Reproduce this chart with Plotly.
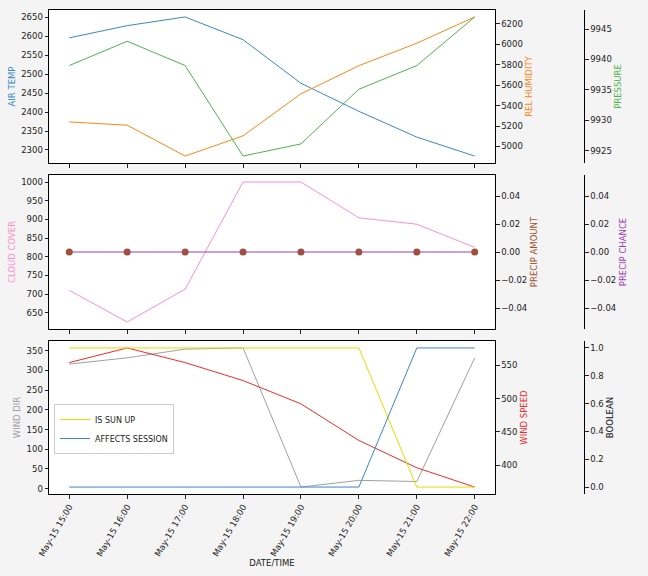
import plotly.graph_objects as go

times = ["2024-05-15 15:00", "2024-05-15 16:00", "2024-05-15 17:00", "2024-05-15 18:00",
         "2024-05-15 19:00", "2024-05-15 20:00", "2024-05-15 21:00", "2024-05-15 22:00"]
air_temp = [2596, 2628, 2651, 2591, 2476, 2402, 2334, 2284]
rel_humidity = [5240, 5208, 4906, 5104, 5515, 5791, 6011, 6268]
pressure = [9939.0, 9943.0, 9939.0, 9924.1, 9926.1, 9935.1, 9939.0, 9947.0]
cloud_cover = [710, 625, 713, 1000, 1000, 904, 887, 825]
precip_amount = [0, 0, 0, 0, 0, 0, 0, 0]
precip_chance = [0, 0, 0, 0, 0, 0, 0, 0]
wind_dir = [316, 332, 354, 357, 4, 21, 18, 332]
wind_speed = [554, 576, 554, 527, 492, 437, 396, 367]
is_sun_up = [1, 1, 1, 1, 1, 1, 0, 0]
affects_session = [0, 0, 0, 0, 0, 0, 1, 1]

C_BLUE = "#3a87c4"
C_ORANGE = "#ff8516"
C_GREEN = "#4fb24f"
C_PINK = "#ff8fcc"
C_BROWN = "#a0522d"
C_PURPLE = "#9b3fb0"
C_GRAY = "#a0a0a0"
C_RED = "#ee2a2a"
C_YELLOW = "#e6dc00"


def pad(vals):
    lo, hi = min(vals), max(vals)
    if hi == lo:
        return [lo - 0.055, hi + 0.055]
    d = (hi - lo) * 0.05
    return [lo - d, hi + d]


FONT = "DejaVu Sans"
FS = 8.5
XDOM = [49 / 648, 495 / 648]
P3 = 584 / 648
H = 576
DOMS = [[1 - 163 / H, 1 - 10 / H], [1 - 329 / H, 1 - 175 / H], [1 - 494 / H, 1 - 341 / H]]

fig = go.Figure()

# panel 1
fig.add_trace(go.Scatter(x=times, y=air_temp, mode="lines", line=dict(color=C_BLUE, width=1),
                         xaxis="x", yaxis="y", showlegend=False))
fig.add_trace(go.Scatter(x=times, y=rel_humidity, mode="lines", line=dict(color=C_ORANGE, width=1),
                         xaxis="x", yaxis="y2", showlegend=False))
fig.add_trace(go.Scatter(x=times, y=pressure, mode="lines", line=dict(color=C_GREEN, width=1),
                         xaxis="x", yaxis="y3", showlegend=False))
# panel 2
fig.add_trace(go.Scatter(x=times, y=cloud_cover, mode="lines", line=dict(color=C_PINK, width=1),
                         xaxis="x2", yaxis="y4", showlegend=False))
fig.add_trace(go.Scatter(x=times, y=precip_amount, mode="markers", marker=dict(color=C_BROWN, size=7),
                         xaxis="x2", yaxis="y5", showlegend=False))
fig.add_trace(go.Scatter(x=times, y=precip_chance, mode="lines", line=dict(color=C_PURPLE, width=1),
                         xaxis="x2", yaxis="y6", showlegend=False))
# panel 3
fig.add_trace(go.Scatter(x=times, y=wind_dir, mode="lines", line=dict(color=C_GRAY, width=1),
                         xaxis="x3", yaxis="y7", showlegend=False))
fig.add_trace(go.Scatter(x=times, y=wind_speed, mode="lines", line=dict(color=C_RED, width=1),
                         xaxis="x3", yaxis="y8", showlegend=False))
fig.add_trace(go.Scatter(x=times, y=is_sun_up, mode="lines", line=dict(color=C_YELLOW, width=1),
                         xaxis="x3", yaxis="y9", name="IS SUN UP"))
fig.add_trace(go.Scatter(x=times, y=affects_session, mode="lines", line=dict(color=C_BLUE, width=1),
                         xaxis="x3", yaxis="y9", name="AFFECTS SESSION"))

tickfont = dict(family=FONT, size=FS, color="#222")
common_ax = dict(showgrid=False, zeroline=False, ticks="outside", ticklen=3.5, tickwidth=0.8,
                 tickcolor="#222", tickfont=tickfont, automargin=False,
                 showline=True, linecolor="black", linewidth=1)

xrange = ["2024-05-15 14:39", "2024-05-15 22:21"]
for i, name in enumerate(["xaxis", "xaxis2", "xaxis3"]):
    a = dict(common_ax)
    a.update(domain=XDOM, range=xrange, type="date", mirror=True,
             anchor=["y", "y4", "y7"][i], tickvals=times,
             tickformat="%b-%d %H:%M", showticklabels=(i == 2))
    if i == 2:
        a.update(tickangle=-60,
                 title=dict(text="DATE/TIME", font=dict(family=FONT, size=FS, color="#222"), standoff=1))
    else:
        a.update(matches="x3")
    fig.update_layout({name: a})


def left_axis(name, dom, anchor, rng, dtick, title, color, fmt=None):
    a = dict(common_ax)
    a.update(domain=dom, anchor=anchor, range=rng, dtick=dtick, mirror=True,
             title=dict(text=title, font=dict(family=FONT, size=FS, color=color), standoff=4))
    if fmt:
        a["tickformat"] = fmt
    fig.update_layout({name: a})


def right_axis(name, dom, over, anchor, rng, dtick, title, color, fmt=None, free=False):
    a = dict(common_ax)
    a.update(domain=dom, overlaying=over, side="right", range=rng, dtick=dtick,
             title=dict(text=title, font=dict(family=FONT, size=FS, color=color), standoff=4))
    if free:
        a.update(anchor="free", position=P3)
    else:
        a.update(anchor=anchor, showline=False)
    if fmt:
        a["tickformat"] = fmt
    fig.update_layout({name: a})


left_axis("yaxis", DOMS[0], "x", pad(air_temp), 50, "AIR TEMP", C_BLUE, fmt="d")
right_axis("yaxis2", DOMS[0], "y", "x", pad(rel_humidity), 200, "REL HUMIDITY", C_ORANGE, fmt="d")
right_axis("yaxis3", DOMS[0], "y", "x", pad(pressure), 5, "PRESSURE", C_GREEN, fmt="d", free=True)

left_axis("yaxis4", DOMS[1], "x2", pad(cloud_cover), 50, "CLOUD COVER", C_PINK, fmt="d")
right_axis("yaxis5", DOMS[1], "y4", "x2", pad(precip_amount), 0.02, "PRECIP AMOUNT", C_BROWN, fmt=".2f")
right_axis("yaxis6", DOMS[1], "y4", "x2", pad(precip_chance), 0.02, "PRECIP CHANCE", C_PURPLE, fmt=".2f", free=True)

left_axis("yaxis7", DOMS[2], "x3", pad(wind_dir), 50, "WIND DIR", C_GRAY, fmt="d")
right_axis("yaxis8", DOMS[2], "y7", "x3", pad(wind_speed), 50, "WIND SPEED", C_RED, fmt="d")
right_axis("yaxis9", DOMS[2], "y7", "x3", [-0.05, 1.05], 0.2, "BOOLEAN", "#111", fmt=".1f", free=True)

fig.update_layout(
    width=648, height=576,
    margin=dict(l=0, r=0, t=0, b=0),
    paper_bgcolor="#f4f4f4", plot_bgcolor="white",
    font=dict(family=FONT, size=FS, color="#222"),
    showlegend=True,
    legend=dict(x=54 / 648, y=1 - 404 / 576, xanchor="left", yanchor="top",
                bgcolor="white", bordercolor="#cccccc", borderwidth=1,
                font=dict(family=FONT, size=8, color="#222"),
                itemwidth=30, tracegroupgap=0),
)

fig.write_html("out.html", config={"displayModeBar": False},
               post_script="document.body.style.margin='0';document.body.style.background='#f4f4f4';")
